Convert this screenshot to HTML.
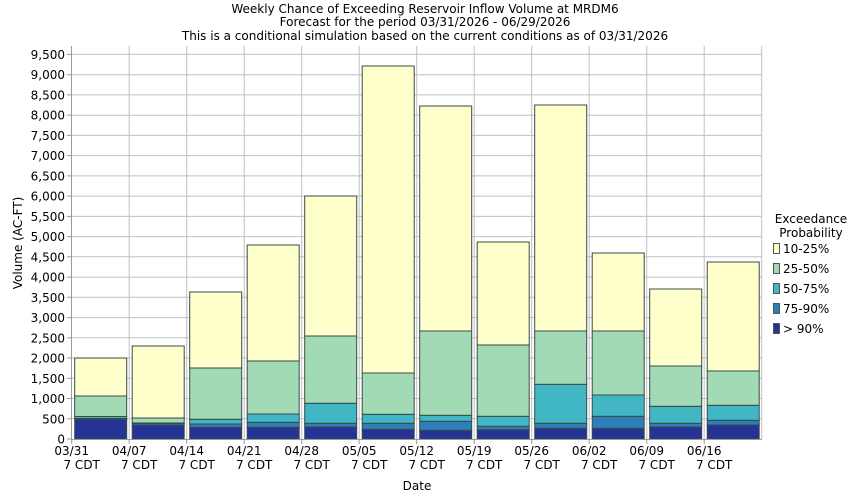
<!DOCTYPE html>
<html><head><meta charset="utf-8"><style>
body{margin:0;background:#fff}
svg{display:block;font-family:"DejaVu Sans","Liberation Sans",sans-serif}
</style></head><body>
<svg width="850" height="500" viewBox="0 0 850 500" xmlns="http://www.w3.org/2000/svg">
<rect width="850" height="500" fill="#fff"/>
<g font-size="12" text-anchor="middle" fill="#000">
<text x="425" y="13">Weekly Chance of Exceeding Reservoir Inflow Volume at MRDM6</text>
<text x="425" y="26">Forecast for the period 03/31/2026 - 06/29/2026</text>
<text x="425" y="40">This is a conditional simulation based on the current conditions as of 03/31/2026</text>
</g>
<g id="grid" stroke="#c0c0c0" stroke-width="1"></g>
<g id="bars" stroke="#3a4a48" stroke-width="1"></g>
<line x1="71.5" y1="46" x2="71.5" y2="439.5" stroke="#999"/>
<line x1="71" y1="439.5" x2="762" y2="439.5" stroke="#999"/>
<line x1="761.7" y1="46" x2="761.7" y2="439.5" stroke="#c0c0c0"/>
<g id="yl" font-size="12" text-anchor="end"></g>
<g id="xl" font-size="12" text-anchor="middle"></g>
<text x="417" y="490" font-size="12" text-anchor="middle">Date</text>
<text transform="translate(22,243) rotate(-90)" font-size="12" text-anchor="middle">Volume (AC-FT)</text>
<g font-size="12">
<text x="811" y="223" text-anchor="middle">Exceedance</text>
<text x="811" y="237" text-anchor="middle">Probability</text>
<rect x="773.5" y="243.5" width="6" height="10" fill="#ffffcc" stroke="#555"/><text x="783" y="253">10-25%</text>
<rect x="773.5" y="263.5" width="6" height="10" fill="#a1dab4" stroke="#555"/><text x="783" y="273">25-50%</text>
<rect x="773.5" y="283.5" width="6" height="10" fill="#41b6c4" stroke="#555"/><text x="783" y="293">50-75%</text>
<rect x="773.5" y="303.5" width="6" height="10" fill="#2c7fb8" stroke="#555"/><text x="783" y="313">75-90%</text>
<rect x="773.5" y="323.5" width="6" height="10" fill="#253494" stroke="#555"/><text x="783" y="333">&gt; 90%</text>
</g>
</svg>
<script>
var ns="http://www.w3.org/2000/svg";
function el(p,t,a,txt){var e=document.createElementNS(ns,t);for(var k in a)e.setAttribute(k,a[k]);if(txt)e.textContent=txt;document.getElementById(p).appendChild(e);}
for(var i=0;i<=19;i++){var y=439-i*500*0.04048;
 if(i>0)el("grid","line",{x1:71,x2:762,y1:y.toFixed(1),y2:y.toFixed(1)});
 el("grid","line",{x1:67,x2:71,y1:y.toFixed(1),y2:y.toFixed(1),stroke:"#999"});
 el("yl","text",{x:65,y:(y+4.5).toFixed(1)},(i*500).toLocaleString("en-US"));}
var d=["03/31","04/07","04/14","04/21","04/28","05/05","05/12","05/19","05/26","06/02","06/09","06/16"];
for(var i=0;i<12;i++){var x=71.7+57.5*i;
 if(i>0)el("grid","line",{x1:x,x2:x,y1:46,y2:439});
 el("grid","line",{x1:x,x2:x,y1:439,y2:444,stroke:"#999"});
 el("xl","text",{x:x,y:455},d[i]);el("xl","text",{x:x+10,y:469},"7 CDT");}
var B=[[419.3,418.5,416.5,396,358],[425,423.5,423,418,346],[427.3,424,419.3,368,292],[427.3,422.3,414,361,245],[427,423.3,403.3,336,196],[429.3,423.3,414.3,373,66],[430.3,421.3,415.3,331,106],[429.7,426.3,416.3,345,242],[428.3,423.3,384.3,331,105],[428.3,416.3,395,331,253],[427,423.3,406.3,366,289],[425,420.3,405.3,371,262]];
var C=["#253494","#2c7fb8","#41b6c4","#a1dab4","#ffffcc"];
for(var i=0;i<12;i++){var x=71.7+57.5*i+3,w=52;var prev=439;
 for(var j=0;j<5;j++){var t=B[i][j];el("bars","rect",{x:x.toFixed(1),y:t,width:w,height:(prev-t).toFixed(1),fill:C[j]});prev=t;}}
</script>
</body></html>
